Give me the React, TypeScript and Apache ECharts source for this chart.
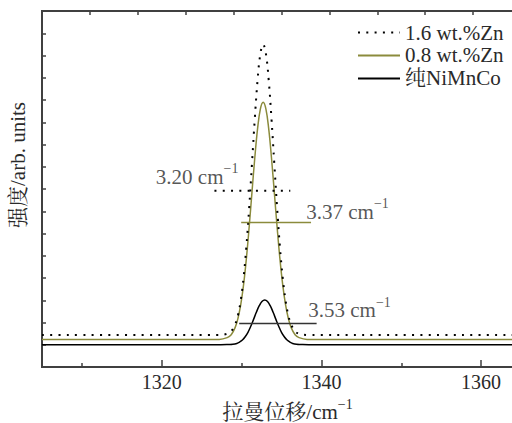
import React, { useEffect, useRef, useState } from 'react';
import * as echarts from 'echarts';

const FONT = 'Liberation Serif, Noto Serif CJK SC, Noto Sans CJK SC, serif';
const TEXT_COLOR = '#2a2a2a';
const OLIVE = '#8b8b3c';
const AXIS_COLOR = '#404040';

const seriesNames = ['1.6 wt.%Zn', '0.8 wt.%Zn', '纯NiMnCo'];

const zn16X = [1305, 1320, 1327.2, 1328.2, 1328.7, 1329.2, 1329.55, 1329.9, 1330.25, 1330.6, 1330.95, 1331.3, 1331.65, 1332.0, 1332.35, 1332.7, 1333.05, 1333.4, 1333.75, 1334.1, 1334.45, 1334.8, 1335.15, 1335.5, 1335.85, 1336.2, 1336.7, 1337.2, 1338.2, 1345, 1365];
const zn16Y = [1.44, 1.44, 1.44, 1.49, 1.61, 1.92, 2.33, 3.01, 4.02, 5.41, 7.15, 9.13, 11.13, 12.88, 14.07, 14.5, 14.07, 12.88, 11.13, 9.13, 7.15, 5.41, 4.02, 3.01, 2.33, 1.92, 1.61, 1.49, 1.44, 1.44, 1.44];

const zn08X = [1305, 1320, 1327.2, 1328.2, 1328.7, 1329.2, 1329.55, 1329.9, 1330.25, 1330.6, 1330.95, 1331.3, 1331.65, 1332.0, 1332.35, 1332.7, 1333.05, 1333.4, 1333.75, 1334.1, 1334.45, 1334.8, 1335.15, 1335.5, 1335.85, 1336.2, 1336.7, 1337.2, 1338.2, 1345, 1365];
const zn08Y = [1.24, 1.24, 1.24, 1.32, 1.45, 1.78, 2.19, 2.81, 3.70, 4.87, 6.29, 7.85, 9.38, 10.70, 11.59, 11.9, 11.59, 10.70, 9.38, 7.85, 6.29, 4.87, 3.70, 2.81, 2.19, 1.78, 1.45, 1.32, 1.24, 1.24, 1.24];

const pureX = [1305, 1320, 1327.4, 1328.4, 1328.9, 1329.4, 1329.75, 1330.1, 1330.45, 1330.8, 1331.15, 1331.5, 1331.85, 1332.2, 1332.55, 1332.9, 1333.25, 1333.6, 1333.95, 1334.3, 1334.65, 1335.0, 1335.35, 1335.7, 1336.05, 1336.4, 1336.9, 1337.4, 1338.4, 1345, 1365];
const pureY = [1.0, 1.0, 1.0, 1.01, 1.02, 1.06, 1.12, 1.21, 1.36, 1.56, 1.83, 2.14, 2.46, 2.745, 2.94, 3.01, 2.94, 2.745, 2.46, 2.14, 1.83, 1.56, 1.36, 1.21, 1.12, 1.06, 1.02, 1.01, 1.0, 1.0, 1.0];

// FWHM markers: [start x, end x, y]
const fwhmStartX = [1326.6, 1329.95, 1329.7];
const fwhmEndX = [1336.1, 1338.7, 1339.4];
const fwhmLevel = [7.92, 6.49, 1.95];
const fwhmText = ['3.20', '3.37', '3.53'];
const fwhmLabelX = [1329.6, 1338.1, 1338.35];
const fwhmLabelY = [8.54, 6.97, 2.56];
const fwhmLabelSide = ['left', 'right', 'right'];

const xMin = 1305;
const xMax = 1365;
const yMax = 16;
const xMajorTicks = [1320, 1340, 1360];
const xMinorTicks = [1310, 1330, 1350];

const lineColors = ['#000000', OLIVE, '#000000'];
const lineTypes: any[] = [[2, 6.3], 'solid', 'solid'];

function pairs(xs: number[], ys: number[]) {
  return xs.map((x, i) => [x, ys[i]]);
}

function axisLineStyle(show: boolean) {
  return { show, onZero: false, lineStyle: { color: AXIS_COLOR, width: 2 } };
}
function tickStyle(len: number, extra: any = {}) {
  return { show: true, inside: true, length: len, lineStyle: { color: AXIS_COLOR, width: 1.5 }, ...extra };
}

export default function App() {
  const ref = useRef<HTMLDivElement>(null);
  const [frame, setFrame] = useState<number[] | null>(null);
  useEffect(() => {
    if (!ref.current) return;
    const chart = echarts.init(ref.current, undefined, { renderer: 'svg' });
    const curves = [pairs(zn16X, zn16Y), pairs(zn08X, zn08Y), pairs(pureX, pureY)];
    const rich = {
      a: { fontFamily: FONT, fontSize: 21, color: TEXT_COLOR, lineHeight: 30 },
      s: { fontFamily: FONT, fontSize: 14, color: TEXT_COLOR, verticalAlign: 'top', lineHeight: 14 },
    };
    const series: any[] = curves.map((d, i) => ({
      name: seriesNames[i],
      type: 'line',
      data: d,
      symbol: 'none',
      showSymbol: false,
      smooth: 0.4,
      z: 3 - i,
      lineStyle: { color: lineColors[i], width: i === 0 ? 2 : 1.5, type: lineTypes[i], cap: 'butt' },
      itemStyle: { color: lineColors[i] },
    }));
    fwhmText.forEach((_, i) => {
      series.push({
        name: 'fwhm' + i,
        type: 'line',
        data: [[fwhmStartX[i], fwhmLevel[i]], [fwhmEndX[i], fwhmLevel[i]]],
        symbol: 'none',
        lineStyle: { color: i === 2 ? '#333' : lineColors[i], width: i === 0 ? 2 : 1.5, type: lineTypes[i], cap: 'butt' },
      });
    });
    series.push({
      name: 'labels',
      type: 'scatter',
      symbolSize: 0,
      data: fwhmText.map((t, i) => ({
        value: [fwhmLabelX[i], fwhmLabelY[i]],
        label: {
          show: true,
          position: fwhmLabelSide[i],
          distance: 0,
          formatter: `{a|${t} cm}{s|−1}`,
          rich,
        },
      })),
    });

    chart.setOption({
      animation: false,
      grid: {
        left: 42, top: 11, right: -9, bottom: 56, outerBoundsMode: 'none',
        show: true, borderColor: AXIS_COLOR, borderWidth: 2,
      },
      legend: {
        data: seriesNames,
        orient: 'vertical',
        left: 352,
        top: 17,
        itemWidth: 42,
        itemHeight: 14,
        itemGap: 2,
        itemStyle: { opacity: 0 },
        textStyle: { fontFamily: FONT, fontSize: 21, color: TEXT_COLOR },
      },
      xAxis: [
        {
          type: 'value',
          min: xMin,
          max: xMax,
          position: 'bottom',
          axisLine: axisLineStyle(true),
          splitLine: { show: false },
          axisTick: tickStyle(7, { customValues: xMajorTicks }),
          axisLabel: { show: true, customValues: xMajorTicks, margin: 5, fontFamily: FONT, fontSize: 20, color: TEXT_COLOR, formatter: (v: number) => String(v) },
          name: '{a|拉曼位移/cm}{s|−1}',
          nameLocation: 'middle',
          nameGap: 30,
          nameTextStyle: { rich, padding: [0, 0, 0, 12] },
        },
        {
          type: 'value',
          min: 0,
          max: 10,
          interval: 1,
          position: 'top',
          axisLine: axisLineStyle(true),
          splitLine: { show: false },
          axisTick: tickStyle(4),
          axisLabel: { show: true, formatter: () => '' },
        },
        {
          type: 'value',
          min: xMin,
          max: xMax,
          position: 'bottom',
          axisLine: axisLineStyle(false),
          splitLine: { show: false },
          axisTick: tickStyle(4, { customValues: xMinorTicks }),
          axisLabel: { show: false },
        },
      ],
      yAxis: {
        type: 'value',
        min: 0,
        max: yMax,
        interval: 1,
        axisLine: axisLineStyle(true),
        splitLine: { show: false },
        axisTick: tickStyle(4),
        axisLabel: { show: false },
        name: '强度/arb. units',
        nameLocation: 'middle',
        nameGap: 14,
        nameTextStyle: { fontFamily: FONT, fontSize: 21, color: TEXT_COLOR, padding: [0, 0, 0, 48] },
      },
      series,
    });

    // Top frame line position, taken from the axes' own scales
    const p0 = chart.convertToPixel({ xAxisIndex: 0, yAxisIndex: 0 }, [xMin, yMax]) as number[];
    const p1 = chart.convertToPixel({ xAxisIndex: 0, yAxisIndex: 0 }, [xMax, yMax]) as number[];
    if (p0 && p1) setFrame([p0[0], p0[1], p1[0]]);
    return () => chart.dispose();
  }, []);
  return (
    <div style={{ position: 'absolute', left: 0, top: 0, width: 512, height: 423, overflow: 'hidden', background: '#fff' }}>
      <div ref={ref} style={{ width: 512, height: 423, position: 'absolute', left: 0, top: 0 }} />
      {frame && (
        <div
          style={{
            position: 'absolute',
            left: frame[0] - 1,
            top: frame[1] - 1,
            width: frame[2] - frame[0] + 1,
            height: 2,
            background: AXIS_COLOR,
            zIndex: 10,
            pointerEvents: 'none',
          }}
        />
      )}
    </div>
  );
}
